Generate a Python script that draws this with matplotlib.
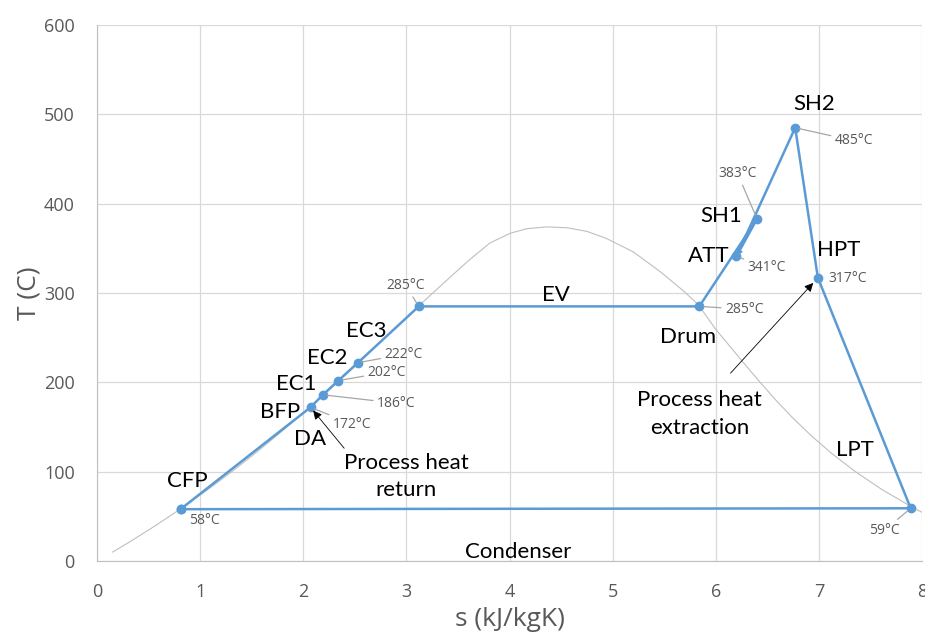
import matplotlib
matplotlib.use('Agg')
import matplotlib.pyplot as plt

# cycle state points: entropy s [kJ/kgK], temperature T [C]
stations = ['CFP', 'DA', 'EC1', 'EC2', 'EC3', 'EV0', 'Drum', 'SH1', 'ATT', 'SH2', 'HPT', 'LPT']
s_pts = [0.81, 2.07, 2.19, 2.34, 2.53, 3.12, 5.84, 6.40, 6.20, 6.77, 6.99, 7.89]
T_pts = [58, 172, 186, 202, 222, 285, 285, 383, 341, 485, 317, 59]

# saturation dome of water
T_dome_liq = [10, 20, 40, 60, 80, 100, 120, 140, 160, 180, 200, 220, 240, 260, 280,
              311, 335, 356, 367, 372, 374]
s_dome_liq = [0.151, 0.297, 0.572, 0.831, 1.075, 1.307, 1.528, 1.739, 1.943, 2.139, 2.331, 2.518,
              2.702, 2.884, 3.067, 3.36, 3.59, 3.81, 4.01, 4.17, 4.36]
T_dome_vap = [373, 369, 361, 346, 324, 302, 287, 260, 240, 220, 200, 180,
              160, 140, 120, 100, 80, 60, 50]
s_dome_vap = [4.56, 4.75, 4.94, 5.20, 5.46, 5.69, 5.83, 5.995, 6.139, 6.283, 6.430, 6.583,
              6.748, 6.928, 7.128, 7.354, 7.611, 7.908, 8.075]

BLUE = '#5B9BD5'
GREY = '#595959'
LEADER = '#a6a6a6'
FONT = 'Open Sans'
LFONT = 'Lato'
LSIZE = 16

fig = plt.figure(figsize=(9.25, 6.37), dpi=100)
ax = fig.add_axes([0.1049, 0.1193, 0.8919, 0.8415])

# dome
ax.plot(s_dome_liq + s_dome_vap, T_dome_liq + T_dome_vap, color='#bfbfbf', lw=0.8,
        zorder=2, solid_joinstyle='round')

# cycle: closed loop back to CFP through the condenser
loop_s = s_pts + [s_pts[0]]
loop_T = T_pts + [T_pts[0]]
ax.plot(loop_s, loop_T, color=BLUE, lw=1.8, marker='o', ms=6, mec=BLUE, mfc=BLUE, zorder=3)

ax.set_xlim(0, 8)
ax.set_ylim(0, 600)
ax.set_xticks(range(0, 9))
ax.set_yticks(range(0, 601, 100))
ax.grid(True, color='#d9d9d9', lw=0.9)
ax.set_axisbelow(True)
for side in ['top', 'right']:
    ax.spines[side].set_visible(False)
for side in ['left', 'bottom']:
    ax.spines[side].set_color('#bfbfbf')
ax.tick_params(length=0, colors=GREY, labelsize=13)
ax.tick_params(axis='x', pad=16)
ax.tick_params(axis='y', pad=16)
for lbl in ax.get_xticklabels() + ax.get_yticklabels():
    lbl.set_fontfamily(FONT)
ax.set_xlabel('s (kJ/kgK)', fontsize=19, color=GREY, family=FONT, labelpad=4)
ax.set_ylabel('T (C)', fontsize=19, color=GREY, family=FONT, labelpad=2)

idx = {name: i for i, name in enumerate(stations)}


def pt(name):
    i = idx[name]
    return s_pts[i], T_pts[i]


# station names (offsets in points)
names = [('CFP', 'CFP', (5, 20)), ('BFP', 'DA', (-22, -3)), ('DA', 'DA', (0, -23)),
         ('EC1', 'EC1', (-19, 8)), ('EC2', 'EC2', (-8, 16)), ('EC3', 'EC3', (6, 23)),
         ('Drum', 'Drum', (-8, -22)), ('ATT', 'ATT', (-20, 0)), ('SH1', 'SH1', (-26, 2)),
         ('SH2', 'SH2', (14, 17)), ('HPT', 'HPT', (15, 20))]
for text, ref, off in names:
    ax.annotate(text, pt(ref), xytext=off, textcoords='offset points',
                ha='center', va='center', fontsize=LSIZE, family=LFONT, color='black')

# segment names placed off segment midpoints
ev_mid = ((pt('EV0')[0] + pt('Drum')[0]) / 2, pt('Drum')[1])
ax.annotate('EV', ev_mid, xytext=(-2, 8), textcoords='offset points',
            ha='center', va='center', fontsize=LSIZE, family=LFONT)
lpt_mid = ((pt('HPT')[0] + pt('LPT')[0]) / 2, (pt('HPT')[1] + pt('LPT')[1]) / 2)
ax.annotate('LPT', lpt_mid, xytext=(-6.5, -41), textcoords='offset points',
            ha='center', va='center', fontsize=LSIZE, family=LFONT)
cond_mid = ((pt('CFP')[0] + pt('LPT')[0]) / 2, (pt('CFP')[1] + pt('LPT')[1]) / 2)
ax.annotate('Condenser', cond_mid, xytext=(-19.5, -31), textcoords='offset points',
            ha='center', va='center', fontsize=LSIZE, family=LFONT)

# temperature labels with leader lines
temps = [('CFP', (17, -8.5), False), ('DA', (30, -12), True), ('EC1', (53, -6), True),
         ('EC2', (35, 6), True), ('EC3', (33, 6), True), ('EV0', (-9.5, 15), True),
         ('Drum', (32.5, -2), True), ('ATT', (22, -8), True), ('SH1', (-14, 32.5), True),
         ('SH2', (42.5, -9.5), True), ('HPT', (21.5, -0.5), False), ('LPT', (-19, -16), True)]
for ref, off, leader in temps:
    xy = pt(ref)
    props = None
    if leader:
        props = dict(arrowstyle='-', color=LEADER, lw=0.9, shrinkA=1, shrinkB=3)
    ax.annotate('%d°C' % xy[1], xy, xytext=off, textcoords='offset points',
                ha='center', va='center', fontsize=10, family=FONT, color=GREY,
                arrowprops=props, zorder=4)

# attemperation step
ax.annotate('', pt('ATT'), xytext=pt('SH1'),
            arrowprops=dict(arrowstyle='-|>', color=BLUE, lw=0.8, mutation_scale=10,
                            shrinkA=3, shrinkB=0),
            zorder=5)

# process heat arrows
ax.annotate('Process heat\nreturn', pt('DA'), xytext=(69, -50), textcoords='offset points',
            ha='center', va='center', fontsize=LSIZE, family=LFONT, linespacing=1.45,
            arrowprops=dict(arrowstyle='-|>', color='black', lw=0.6, mutation_scale=13,
                            shrinkA=2, shrinkB=3, relpos=(0.05, 0.95)))
ax.annotate('Process heat\nextraction', pt('HPT'), xytext=(-85, -98), textcoords='offset points',
            ha='center', va='center', fontsize=LSIZE, family=LFONT, linespacing=1.45,
            arrowprops=dict(arrowstyle='-|>', color='black', lw=0.6, mutation_scale=13,
                            shrinkA=14, shrinkB=5, relpos=(0.62, 1.0)))

plt.savefig('out.png', dpi=100)
